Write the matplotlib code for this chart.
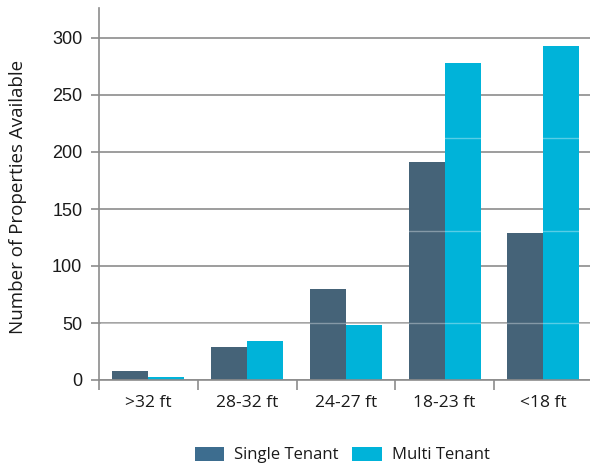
import matplotlib
matplotlib.use("Agg")
import matplotlib.pyplot as plt
from matplotlib.patches import Patch
from matplotlib import font_manager
import numpy as np

categories = [">32 ft", "28-32 ft", "24-27 ft", "18-23 ft", "<18 ft"]
single_tenant = [8, 29, 80, 191, 129]
multi_tenant = [3, 34, 48, 278, 293]
y_ticks = [0, 50, 100, 150, 200, 250, 300]
band_levels = [50, 131, 212]

SINGLE_COLOR = "#456378"
MULTI_COLOR = "#00b3d9"
LEGEND_SINGLE = "#3d6d8f"
GRID_COLOR = "#8c8c8c"
TEXT_COLOR = "#1a1a1a"

installed = {f.name for f in font_manager.fontManager.ttflist}
main_font = ["Open Sans", "DejaVu Sans"]
if "Liberation Sans Narrow" in installed:
    narrow_font, narrow_size = ["Liberation Sans Narrow", "DejaVu Sans"], 14.5
else:
    narrow_font, narrow_size = ["Liberation Sans", "DejaVu Sans"], 13

W, H = 590, 466
fig = plt.figure(figsize=(W / 100, H / 100), dpi=100)
ax = fig.add_axes([99 / W, 86 / H, 1 - 99 / W, 372 / H])

x = np.arange(len(categories))
bw = 0.365
ax.bar(x - bw / 2, single_tenant, width=bw, color=SINGLE_COLOR, zorder=2)
ax.bar(x + bw / 2, multi_tenant, width=bw, color=MULTI_COLOR, zorder=2)

# thin light bands running across the bars
for lvl in band_levels:
    ax.axhline(lvl, xmin=0.005, color="white", alpha=0.35, linewidth=1, zorder=3)

ax.set_xlim(-0.5, -0.5 + 491 / 98.75)
ax.set_ylim(0, 372 / 1.14)

ax.set_yticks(y_ticks)
ax.set_yticklabels([str(v) for v in y_ticks], fontfamily=narrow_font,
                   fontsize=narrow_size, color=TEXT_COLOR)
ax.yaxis.grid(True, color=GRID_COLOR, linewidth=1.2, zorder=0)
ax.set_axisbelow(True)

ax.set_xticks(x - 0.5, minor=False)
ax.set_xticklabels([])
ax.set_xticks(x, minor=True)
ax.set_xticklabels(categories, minor=True, fontfamily=main_font,
                   fontsize=12.5, color=TEXT_COLOR)
ax.tick_params(axis="x", which="major", length=7, width=1.2, color=GRID_COLOR)
ax.tick_params(axis="x", which="minor", length=0, pad=11)
ax.tick_params(axis="y", length=6, width=1.2, color=GRID_COLOR, pad=6)

for side in ("top", "right"):
    ax.spines[side].set_visible(False)
for side in ("left", "bottom"):
    ax.spines[side].set_color(GRID_COLOR)
    ax.spines[side].set_linewidth(1.2)

fig.text(18 / W, 1 - 197 / H, "Number of Properties Available", rotation=90,
         ha="center", va="center", fontfamily=main_font, fontsize=13.5,
         color=TEXT_COLOR)

handles = [Patch(facecolor=LEGEND_SINGLE, label="Single Tenant"),
           Patch(facecolor=MULTI_COLOR, label="Multi Tenant")]
fig.legend(handles=handles, loc="center", bbox_to_anchor=(342 / W, 1 - 455 / H),
           ncol=2, frameon=False, prop={"family": main_font, "size": 12},
           handlelength=1.75, handleheight=0.95, handletextpad=0.6,
           columnspacing=0.85, labelcolor=TEXT_COLOR)

fig.savefig("out.png", dpi=100)
